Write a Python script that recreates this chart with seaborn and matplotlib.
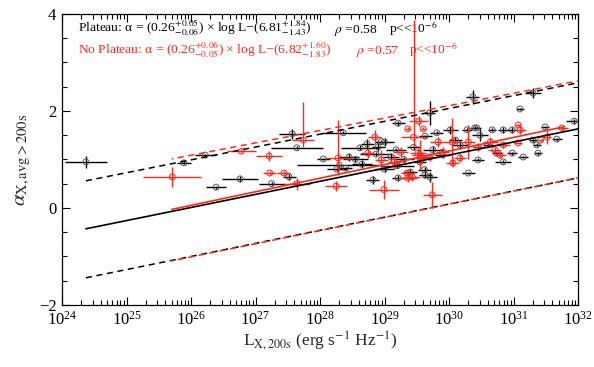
import numpy as np
import pandas as pd
import matplotlib
matplotlib.use("Agg")
import matplotlib.pyplot as plt
import seaborn as sns
from matplotlib.ticker import LogLocator, MultipleLocator, LogFormatterMathtext, NullFormatter

# =========================
# DATA (log10 L, alpha, errors in log10 L / alpha)
# =========================
# Plateau sample (black)
black_logL = [24.37, 25.89, 26.22, 26.76, 26.39, 27.25, 27.52, 27.57, 27.64, 28.36,
              28.30, 28.05, 28.26, 28.40, 28.73, 28.62, 28.90, 28.87, 28.82, 28.95,
              29.00, 29.21, 29.70, 29.18, 29.20, 29.21, 29.40, 29.63, 29.81, 29.75,
              29.70, 29.63, 29.62, 30.02, 30.17, 30.28, 30.40, 30.30, 30.37, 30.43,
              30.48, 30.45, 30.67, 30.74, 30.84, 30.84, 30.98, 30.98, 31.10, 31.15,
              31.30, 31.30, 31.36, 31.38, 31.49, 31.67, 31.94, 28.55, 28.65, 29.10,
              29.30, 29.45, 29.55, 29.90, 30.10, 30.60, 29.00, 28.45]
black_alpha = [0.95, 0.93, 1.09, 0.60, 0.43, 0.50, 0.64, 1.53, 1.24, 1.55,
               0.88, 1.01, 0.80, 0.82, 1.32, 1.24, 1.26, 1.11, 0.58, 1.37,
               1.36, 1.75, 1.96, 1.20, 0.87, 0.62, 0.74, 1.48, 1.55, 1.20,
               0.64, 0.68, 0.79, 1.61, 1.30, 1.61, 1.65, 0.72, 2.29, 1.65,
               1.50, 0.99, 1.61, 1.13, 1.61, 0.95, 1.61, 1.13, 2.04, 1.05,
               2.37, 1.40, 1.30, 1.13, 1.67, 1.42, 1.79, 1.00, 0.90, 1.05,
               1.00, 1.25, 0.95, 1.10, 1.40, 1.30, 0.80, 1.05]
black_xerr = [0.33, 0.11, 0.16, 0.28, 0.16, 0.20, 0.10, 0.20, 0.40, 0.35,
              0.65, 0.10, 0.15, 0.10, 0.10, 0.30, 0.10, 0.25, 0.10, 0.08,
              0.15, 0.10, 0.09, 0.15, 0.25, 0.10, 0.10, 0.10, 0.10, 0.15,
              0.12, 0.10, 0.10, 0.12, 0.12, 0.08, 0.08, 0.10, 0.10, 0.06,
              0.12, 0.10, 0.06, 0.08, 0.08, 0.12, 0.08, 0.08, 0.06, 0.08,
              0.12, 0.06, 0.06, 0.06, 0.06, 0.08, 0.12, 0.20, 0.15, 0.12,
              0.15, 0.10, 0.10, 0.12, 0.10, 0.08, 0.15, 0.15]
black_yerr = [0.12, 0.03, 0.03, 0.06, 0.03, 0.03, 0.06, 0.10, 0.03, 0.03,
              0.03, 0.03, 0.03, 0.03, 0.10, 0.05, 0.08, 0.04, 0.08, 0.03,
              0.08, 0.05, 0.25, 0.03, 0.05, 0.06, 0.06, 0.03, 0.03, 0.08,
              0.10, 0.06, 0.05, 0.08, 0.08, 0.03, 0.03, 0.03, 0.15, 0.03,
              0.12, 0.03, 0.03, 0.03, 0.06, 0.03, 0.06, 0.03, 0.03, 0.03,
              0.10, 0.03, 0.03, 0.03, 0.03, 0.03, 0.05, 0.05, 0.08, 0.08,
              0.06, 0.06, 0.05, 0.06, 0.06, 0.03, 0.05, 0.08]

# No-plateau sample (red)
red_logL = [25.71, 26.78, 27.21, 27.22, 27.44, 27.74, 27.64, 28.28, 28.25, 28.85,
            28.74, 28.95, 28.99, 29.36, 29.36, 29.35, 29.43, 29.45, 29.53, 29.52,
            29.55, 29.57, 29.60, 29.70, 29.74, 29.83, 30.05, 30.06, 30.17, 30.30,
            30.64, 30.71, 30.79, 30.84, 31.07, 31.07, 31.10, 31.42, 31.52, 31.75,
            29.25, 29.90, 30.45, 29.15]
red_alpha = [0.64, 1.17, 1.07, 0.72, 0.72, 1.40, 0.50, 1.03, 0.45, 1.46,
             1.13, 0.99, 0.38, 1.63, 0.62, 0.72, 0.64, 1.46, 1.79, 1.13,
             1.10, 1.03, 1.63, 1.05, 0.27, 1.36, 1.36, 0.93, 1.03, 1.36,
             1.36, 1.20, 1.09, 1.30, 1.71, 1.34, 1.61, 1.40, 1.46, 1.65,
             1.15, 1.15, 1.25, 0.95]
red_xerr = [0.45, 0.22, 0.20, 0.10, 0.10, 0.17, 0.20, 0.20, 0.17, 0.10,
            0.10, 0.10, 0.23, 0.04, 0.15, 0.10, 0.12, 0.20, 0.15, 0.12,
            0.12, 0.12, 0.04, 0.12, 0.15, 0.12, 0.12, 0.10, 0.10, 0.10,
            0.12, 0.10, 0.10, 0.10, 0.04, 0.06, 0.10, 0.04, 0.06, 0.10,
            0.12, 0.10, 0.10, 0.10]
red_ylo = [0.20, 0.04, 0.10, 0.04, 0.04, 0.15, 0.12, 0.35, 0.10, 0.15,
           0.10, 0.20, 0.20, 0.03, 0.08, 0.06, 0.08, 0.20, 0.10, 0.10,
           0.30, 0.10, 0.03, 0.08, 0.27, 0.10, 0.50, 0.08, 0.08, 0.35,
           0.10, 0.06, 0.06, 0.06, 0.03, 0.03, 0.08, 0.03, 0.15, 0.05,
           0.10, 0.10, 0.08, 0.15]
red_yhi = [0.20, 0.04, 0.10, 0.04, 0.04, 0.78, 0.12, 0.78, 0.10, 0.15,
           0.10, 0.20, 0.20, 0.03, 0.08, 0.06, 0.08, 2.42, 0.10, 0.10,
           0.30, 0.10, 0.03, 0.08, 0.27, 0.10, 0.50, 0.08, 0.08, 0.35,
           0.10, 0.06, 0.06, 0.06, 0.03, 0.03, 0.08, 0.03, 0.15, 0.05,
           0.10, 0.10, 0.08, 0.15]

# Fit lines and 1-sigma bands (end points in log10 L, alpha)
black_fit_logL = [24.37, 32.0]
black_fit = [-0.43, 1.63]
black_upper = [0.56, 2.58]
black_lower = [-1.44, 0.62]

red_fit_logL = [25.70, 31.77]
red_fit = [-0.03, 1.67]
red_band_logL = [25.70, 32.0]
red_upper = [1.01, 2.62]
red_lower = [-1.09, 0.62]

RED = "#ff2a1f"

# =========================
# STYLE
# =========================
sns.set_style("ticks")
plt.rcParams["font.family"] = ["Liberation Serif", "DejaVu Serif"]
plt.rcParams["mathtext.fontset"] = "stix"

fig = plt.figure(figsize=(5.94, 3.67), dpi=100)
ax = fig.add_axes([0.1044, 0.169, 0.8687, 0.793])
ax.set_xscale("log")


def log_errors(logx, lo, hi):
    logx = np.asarray(logx)
    x = 10.0 ** logx
    return x, np.vstack([x - 10.0 ** (logx - np.asarray(lo)),
                         10.0 ** (logx + np.asarray(hi)) - x])


# =========================
# POINTS
# =========================
bx, bxe = log_errors(black_logL, black_xerr, black_xerr)
ax.errorbar(bx, black_alpha, xerr=bxe, yerr=black_yerr, fmt="none",
            ecolor="black", elinewidth=1.0, capsize=0, zorder=2)
sns.scatterplot(x=bx, y=black_alpha, ax=ax, marker="o", s=18, color="none",
                edgecolor="0.35", linewidth=0.7, zorder=3)

rx, rxe = log_errors(red_logL, red_xerr, red_xerr)
ax.errorbar(rx, red_alpha, xerr=rxe, yerr=[red_ylo, red_yhi], fmt="none",
            ecolor=RED, elinewidth=1.0, capsize=0, zorder=4)
sns.scatterplot(x=rx, y=red_alpha, ax=ax, marker="o", s=18, color="none",
                edgecolor=RED, linewidth=0.7, zorder=5)

# =========================
# FIT LINES
# =========================
dash = (0, (4, 3))
bxl = 10.0 ** np.array(black_fit_logL)
rxl = 10.0 ** np.array(red_fit_logL)
rbl = 10.0 ** np.array(red_band_logL)

sns.lineplot(x=bxl, y=black_fit, ax=ax, color="black", lw=1.2, estimator=None, sort=False, zorder=6)
sns.lineplot(x=bxl, y=black_upper, ax=ax, color="black", lw=1.1, linestyle=dash, estimator=None, sort=False, zorder=6)
sns.lineplot(x=bxl, y=black_lower, ax=ax, color="black", lw=1.1, linestyle=dash, estimator=None, sort=False, zorder=6)
sns.lineplot(x=rxl, y=red_fit, ax=ax, color=RED, lw=1.2, estimator=None, sort=False, zorder=6)
sns.lineplot(x=rbl, y=red_upper, ax=ax, color=RED, lw=1.1, linestyle=(3, (4, 3)), estimator=None, sort=False, zorder=6)
sns.lineplot(x=rbl, y=red_lower, ax=ax, color=RED, lw=1.1, linestyle=(3, (4, 3)), estimator=None, sort=False, zorder=6)

# =========================
# AXES
# =========================
ax.set_xlim(1e24, 1e32)
ax.set_ylim(-2, 4)
ax.xaxis.set_major_locator(LogLocator(base=10, numticks=20))
ax.xaxis.set_major_formatter(LogFormatterMathtext())
ax.xaxis.set_minor_locator(LogLocator(base=10, subs=np.arange(2, 10), numticks=200))
ax.xaxis.set_minor_formatter(NullFormatter())
ax.yaxis.set_major_locator(MultipleLocator(2))
ax.yaxis.set_minor_locator(MultipleLocator(0.5))

ax.tick_params(which="both", direction="in", top=True, right=True, width=0.8, colors="black")
ax.tick_params(which="major", length=6, labelsize=12, pad=4)
ax.tick_params(which="minor", length=3.5)
for sp in ax.spines.values():
    sp.set_color("black")
    sp.set_linewidth(0.9)

ax.set_xlabel(r"L$_{\rm X,200s}$ (erg s$^{-1}$ Hz$^{-1}$)", fontsize=12.5, labelpad=1)
ax.set_ylabel(r"$\alpha_{\rm X,avg>200s}$", fontsize=15, labelpad=4)

# =========================
# ANNOTATIONS
# =========================
ax.text(0.031, 0.936, r"Plateau: α = (0.26$^{+0.05}_{-0.06}$) × log L−(6.81$^{+1.84}_{-1.43}$)",
        transform=ax.transAxes, fontsize=9.7, color="black", va="baseline", ha="left")
ax.text(0.527, 0.936, r"$\rho$ =0.58", transform=ax.transAxes, fontsize=9.7, color="black", va="baseline")
ax.text(0.634, 0.936, r"p<<10$^{-6}$", transform=ax.transAxes, fontsize=9.7, color="black", va="baseline")
ax.text(0.031, 0.862, r"No Plateau: α = (0.26$^{+0.06}_{-0.05}$) × log L−(6.82$^{+1.60}_{-1.83}$)",
        transform=ax.transAxes, fontsize=9.7, color=RED, va="baseline", ha="left")
ax.text(0.570, 0.862, r"$\rho$ =0.57", transform=ax.transAxes, fontsize=9.7, color=RED, va="baseline")
ax.text(0.672, 0.862, r"p<<10$^{-6}$", transform=ax.transAxes, fontsize=9.7, color=RED, va="baseline")

fig.savefig("out.png", dpi=100)
